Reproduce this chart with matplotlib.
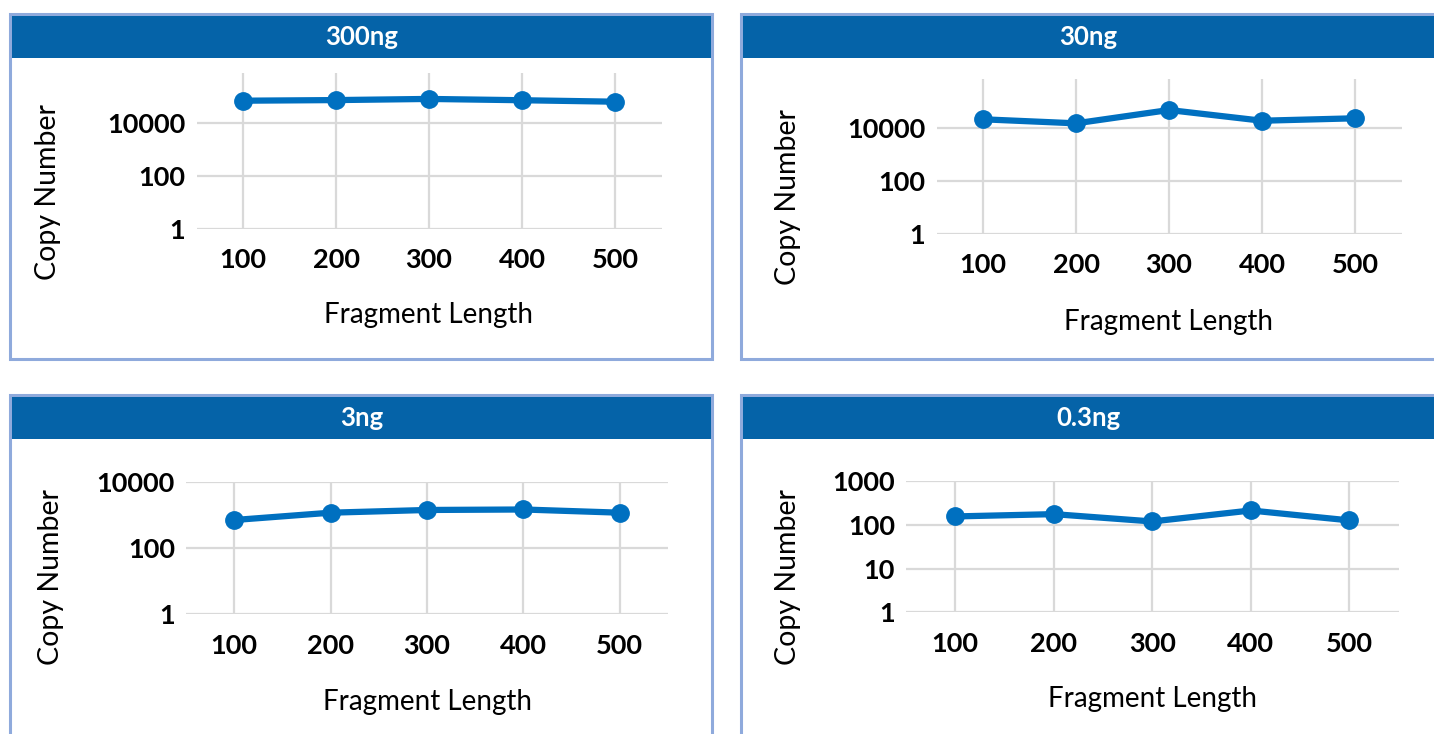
import matplotlib.pyplot as plt
from matplotlib.patches import Rectangle

plt.rcParams['font.family'] = ['Lato', 'DejaVu Sans']

# fragment lengths (bp) and copy numbers for each input amount
lengths = [100, 200, 300, 400, 500]
titles = ['300ng', '30ng', '3ng', '0.3ng']
copies_300ng = [72000, 76000, 84000, 75000, 66000]
copies_30ng = [20700, 14600, 46300, 18300, 22600]
copies_3ng = [720, 1200, 1450, 1500, 1200]
copies_03ng = [155, 175, 119, 212, 126]
series = [copies_300ng, copies_30ng, copies_3ng, copies_03ng]
yticks = [[1, 100, 10000], [1, 100, 10000], [1, 100, 10000], [1, 10, 100, 1000]]
ytops = [8.1e5, 6.8e5, 10000, 1000]

W, H = 1434, 734
LINE = '#0070C0'
HEAD = '#0563A8'
EDGE = '#8FAADC'
GRID = '#D9D9D9'

# panel frames (left, top, right, bottom) and plot areas in pixels
frames = [(10, 14, 712, 359), (741, 14, 1450, 359),
          (10, 395, 712, 750), (741, 395, 1450, 750)]
areas = [(196.5, 73, 661.5, 228.7), (936.5, 79, 1401.5, 234),
         (186, 482.3, 668, 614.3), (906, 481, 1398.5, 612.3)]
ylab_pos = [(48, 192), (788, 197), (51, 577), (788, 577)]
xlab_y = [315, 322, 702, 699]

fig = plt.figure(figsize=(W / 100, H / 100), dpi=100)


def fx(px):
    return px / W


def fy(py):
    return 1 - py / H


for i in range(4):
    l, t, r, b = frames[i]
    fig.patches.append(Rectangle((fx(l), fy(b)), fx(r - l), (b - t) / H,
                                 transform=fig.transFigure, facecolor='white',
                                 edgecolor=EDGE, linewidth=2.2, zorder=-2))
    fig.patches.append(Rectangle((fx(l + 1.5), fy(t + 44)), fx(r - l - 3), 42.5 / H,
                                 transform=fig.transFigure, facecolor=HEAD,
                                 edgecolor='none', zorder=-1))
    fig.text(fx((l + min(r, W)) / 2 + 1), fy(t + 23), titles[i], color='white',
             fontsize=18.5, fontweight='bold', ha='center', va='center')

    al, at, ar, ab = areas[i]
    ax = fig.add_axes([fx(al), fy(ab), fx(ar - al), (ab - at) / H], zorder=2)
    ax.set_yscale('log')
    ax.set_xlim(50, 550)
    ax.set_ylim(1, ytops[i])
    ax.plot(lengths, series[i], color=LINE, linewidth=4.5, marker='o',
            markersize=12.5, solid_capstyle='round', zorder=3, clip_on=False)
    ax.set_xticks(lengths)
    ax.set_xticklabels([str(v) for v in lengths])
    ax.set_yticks(yticks[i])
    ax.set_yticklabels([str(v) for v in yticks[i]])
    ax.minorticks_off()
    ax.grid(True, color=GRID, linewidth=1.6)
    ax.set_axisbelow(True)
    for s in ax.spines.values():
        s.set_visible(False)
    ax.tick_params(length=0, labelsize=19.5, colors='black')
    ax.tick_params(axis='x', pad=14)
    ax.tick_params(axis='y', pad=8)
    for lab in ax.get_xticklabels() + ax.get_yticklabels():
        lab.set_fontweight('bold')
    ax.set_facecolor('none')

    fig.text(fx(ylab_pos[i][0]), fy(ylab_pos[i][1]), 'Copy Number', rotation=90,
             fontsize=20.5, ha='center', va='center')
    fig.text(fx((al + ar) / 2), fy(xlab_y[i]), 'Fragment Length',
             fontsize=20, ha='center', va='center')

fig.savefig('out.png', dpi=100)
